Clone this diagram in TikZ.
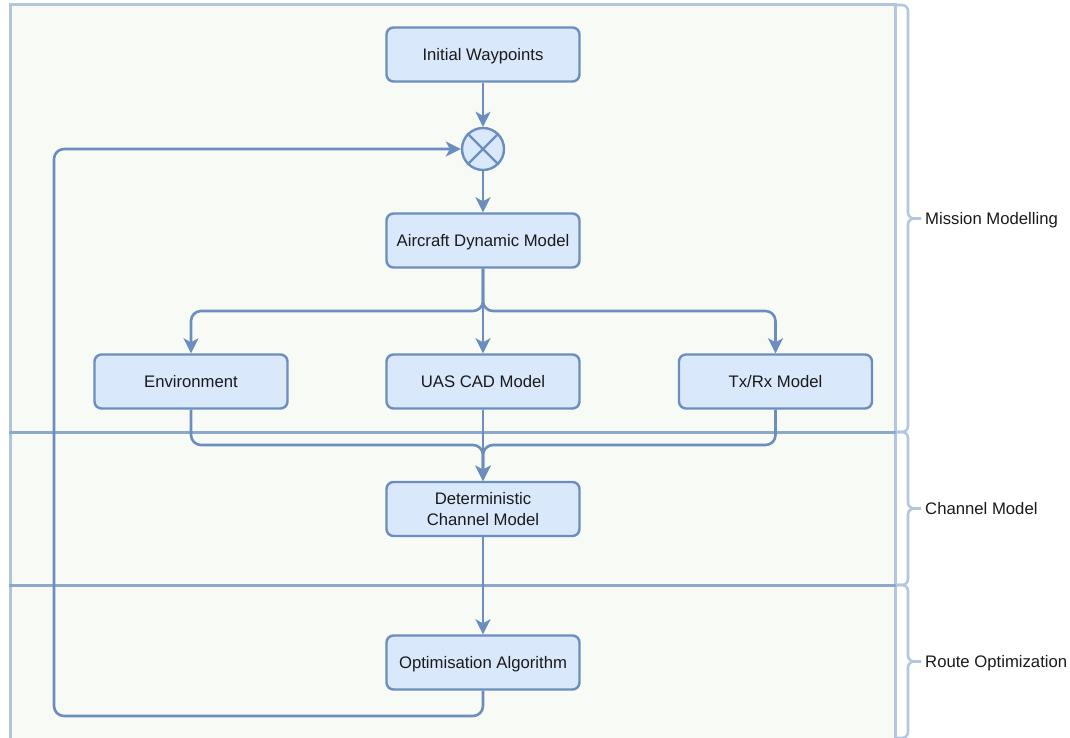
\documentclass[tikz,border=0pt]{standalone}
\usepackage{fontspec}
\setmainfont{Liberation Sans}
\usetikzlibrary{arrows.meta,calc}
\definecolor{edge}{HTML}{6C8EBF}
\definecolor{boxfill}{HTML}{DAE8FC}
\definecolor{panelfill}{HTML}{F8FAF6}
\definecolor{ink}{HTML}{1A1A1A}
\tikzset{
  panelline/.style={draw=edge, draw opacity=0.5, line width=3pt},
  bracket/.style={draw=edge!50!white, line width=2.6pt, rounded corners=6pt},
  lbl/.style={anchor=west, text=ink, font=\fontsize{16.7}{21}\selectfont, inner sep=0pt,
    text height=12pt, text depth=0pt},
  box/.style={rectangle, rounded corners=7pt, draw=edge, fill=boxfill, line width=2.4pt,
    minimum width=193pt, minimum height=54pt, text=ink, align=center,
    text height=12pt, text depth=0pt,
    font=\fontsize{16.7}{21}\selectfont},
  conn/.style={draw=edge, line width=2.6pt, rounded corners=10pt,
    -{Stealth[length=15pt,width=15pt,inset=4pt]}}
}
\begin{document}
\begin{tikzpicture}[x=1pt,y=-1pt]
\useasboundingbox (0,0) rectangle (1070,738);

% swim-lane panels
\foreach \t/\b in {5/432, 432/585, 585/745}
  \fill[panelfill] (10,\t) rectangle (895,\b);
\foreach \t/\b in {5/432, 432/585, 585/745}
  \draw[panelline] (10,\t) rectangle (895,\b);

% side brackets with lane titles
\foreach \t/\b/\txt/\nm in {5/432/Mission Modelling/lmm, 432/585/Channel Model/lcm, 585/738/Route Optimization/lro}{
  \pgfmathsetmacro{\m}{(\t+\b)/2}
  \draw[bracket] (896,\t) -- (908,\t) -- (908,\m) -- (921,\m);
  \draw[bracket] (896,\b) -- (908,\b) -- (908,\m) -- (921,\m);
  \node[lbl] (\nm) at (925,\m) {\txt};
}

% blocks
\node[box] (iw)   at (483,54.5)  {Initial Waypoints};
\node[circle, draw=edge, fill=boxfill, line width=2.4pt, minimum size=42pt, inner sep=0pt] (mix) at (483,149) {};
\draw[edge, line width=2.4pt] (mix.north east) -- (mix.south west) (mix.north west) -- (mix.south east);
\node[box] (adm)  at (483,240.5) {Aircraft Dynamic Model};
\node[box] (env)  at (191,381.5) {Environment};
\node[box] (cad)  at (483,381.5) {UAS CAD Model};
\node[box] (txrx) at (775.5,381.5) {Tx/Rx Model};
\node[box, text height=33pt] (dcm)  at (483,509) {Deterministic\\Channel Model};
\node[box] (opt)  at (483,662.5) {Optimisation Algorithm};

\coordinate (split) at (483,311);
\coordinate (join)  at (483,445);
\coordinate (back)  at (54,716);

% connectors
\draw[conn] (iw) -- (mix);
\draw[conn] (mix) -- (adm);
\draw[conn] (adm.south) -- (split) -| (env.north);
\draw[conn] (adm.south) -- (split) -| (txrx.north);
\draw[conn] (adm) -- (cad);
\draw[conn] (env.south) |- (join) -- (dcm.north);
\draw[conn] (txrx.south) |- (join) -- (dcm.north);
\draw[conn] (cad) -- (dcm);
\draw[conn] (dcm) -- (opt);
\draw[conn] (opt.south) |- (back) |- (mix.west);
\end{tikzpicture}
\end{document}
